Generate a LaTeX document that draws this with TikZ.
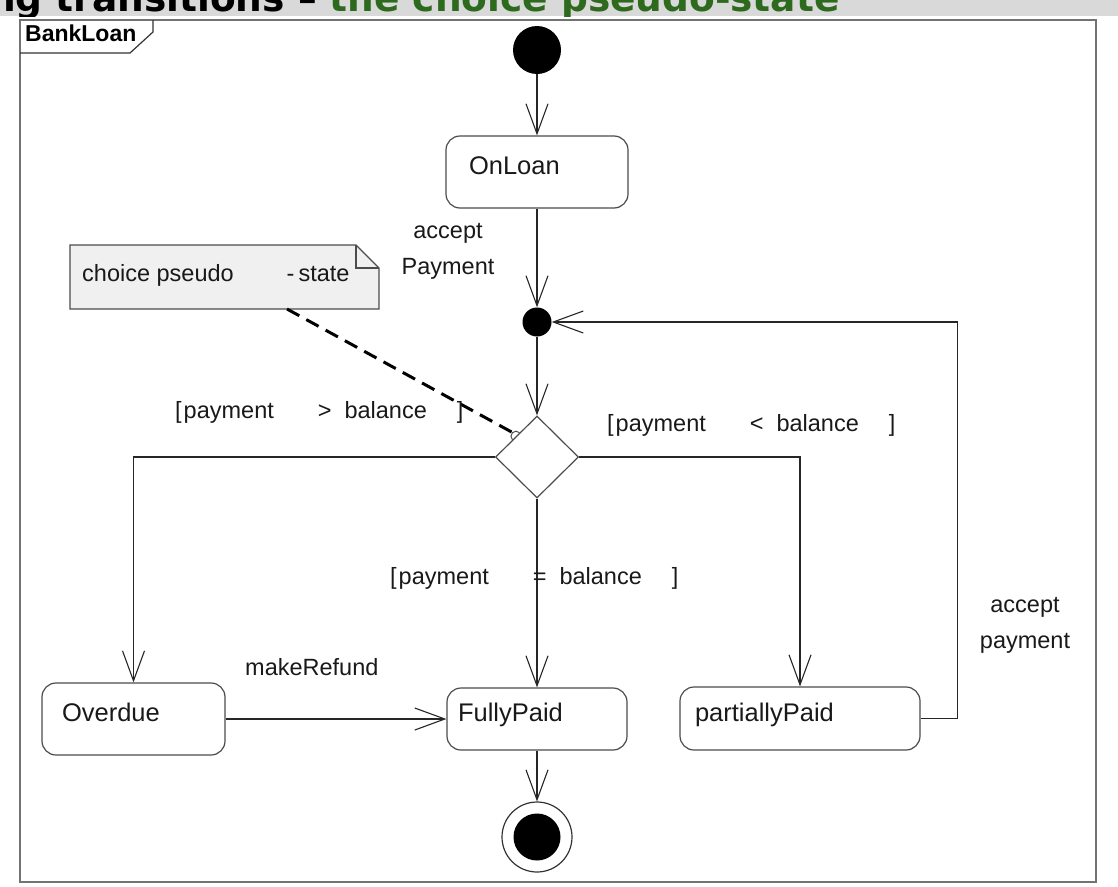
\documentclass[tikz,border=0pt]{standalone}
\usepackage{fontspec}
\setmainfont{Liberation Sans}
\newfontfamily\titlefont{DejaVu Sans}
\usepackage{tikz}
\usetikzlibrary{arrows.meta,shapes.geometric,calc}
\definecolor{titlegreen}{RGB}{46,106,30}
\definecolor{bandgray}{RGB}{217,217,217}
\definecolor{notegray}{RGB}{240,240,240}
\newcommand\statefont{\fontsize{25.5}{30}\selectfont}
\newcommand\lblfont{\fontsize{23.5}{36}\selectfont}
\newcommand\guardtext[1]{[\hspace{2pt}payment\hspace{44pt}#1\hspace{13pt}balance\hspace{30pt}]}

\begin{document}
\begin{tikzpicture}[x=1pt,y=-1pt,
    state/.style={draw=black!70, line width=1.2pt, rounded corners=14pt, align=left,
                  font=\statefont, text=black!90, text height=18pt, text depth=13pt, inner ysep=0pt},
    trans/.style={-{Straight Barb[length=30pt,width=22pt]}, line width=1.1pt, draw=black!85},
    lbl/.style={font=\lblfont, text=black!90, inner sep=0pt}]
               \useasboundingbox (0,0) rectangle (1118,886);
               \begin{scope}
                 \clip (0,0) rectangle (1118,16);
                 \fill[bandgray] (0,0) rectangle (1118,16);
                 \node[anchor=base west, inner sep=0pt, font=\titlefont\bfseries\fontsize{37.5}{40}\selectfont] (title) at (-11,12)
                      {ng transitions \textendash{} \textcolor{titlegreen}{the choice pseudo-state}};
               \end{scope}
               \draw[draw=black!55, line width=2pt] (20,20) rectangle (1096,882);
               \draw[line width=1.2pt, draw=black!80] (153,20) -- (153,32) -- (130,53) -- (20,53);
               \node[anchor=base west, inner sep=0pt, font=\bfseries\fontsize{23}{26}\selectfont] (frame) at (25,41) {BankLoan};
               \node[circle, fill=black, minimum size=48pt, inner sep=0pt] (init) at (537,50) {};
               \node[state, minimum width=182pt, minimum height=72pt, inner xsep=23pt, text width=136pt] (onloan) at (537,172) {OnLoan};
               \node[circle, fill=black, minimum size=29pt, inner sep=0pt] (junc) at (537,322) {};
               \node[diamond, draw=black!70, line width=1.2pt, minimum width=83pt, minimum height=82pt, inner sep=0pt] (choice) at (537,457) {};
               \node[state, minimum width=183pt, minimum height=72pt, inner xsep=20pt, text width=143pt] (overdue) at (133.5,719) {Overdue};
               \node[state, minimum width=180pt, minimum height=62pt, inner xsep=11pt, text width=158pt] (fullypaid) at (537,719) {FullyPaid};
               \node[state, minimum width=240pt, minimum height=63pt, inner xsep=15pt, text width=210pt] (partially) at (800,718.5) {partiallyPaid};
               \node[circle, draw=black!80, line width=1.2pt, minimum size=70pt, inner sep=0pt] (final) at (537,837) {};
               \node[circle, fill=black, minimum size=47pt, inner sep=0pt] (finaldot) at (final) {};
               % comment box
               \coordinate (notenw) at (70,245);
               \coordinate (notese) at (379,309);
               \coordinate (notefoot) at (287,309);
               \filldraw[fill=notegray, draw=black!70, line width=1.2pt] (notenw) -- (356,245) -- (379,268) -- (notese) -- (70,309) -- cycle;
               \draw[draw=black!70, line width=1.2pt] (356,245) -- (356,268) -- (379,268);
               \node[lbl, anchor=base west] (notetext) at (82,281) {choice pseudo\hspace{53pt}-\hspace{4pt}state};
               \coordinate (link) at ($(choice.west)!0.5!(choice.north)$);
               \draw[line width=3pt, dash pattern=on 14pt off 8pt] (notefoot) -- ($(link)+(-4,-4)$);
               \draw[line width=1pt, draw=black!70] (link) ++(45:5pt) arc[start angle=45, end angle=225, radius=5pt];
               % transitions
               \draw[trans] (init) -- (onloan);
               \draw[trans] (onloan) -- (junc);
               \draw[trans] (junc) -- (choice);
               \draw[trans] (choice.west) -| (overdue.north);
               \draw[trans] (choice.east) -| (partially.north);
               \draw[trans] (choice) -- (fullypaid);
               \draw[trans] (overdue) -- (fullypaid);
               \draw[trans] (fullypaid) -- (final);
               \draw[trans] (partially.east) -- ++(37,0) |- (junc.east);
               \node[lbl, anchor=base, align=center] (acceptlbl) at (448,274) {accept\\Payment};
               \node[lbl, anchor=base west] (gtlbl) at (175,418) {\guardtext{>}};
               \node[lbl, anchor=base west] (ltlbl) at (607,431) {\guardtext{<}};
               \node[lbl, anchor=base west] (eqlbl) at (390,584) {\guardtext{=}};
               \node[lbl, anchor=base west] (refundlbl) at (245,675) {makeRefund};
               \node[lbl, anchor=base, align=center] (paylbl) at (1025,648) {accept\\payment};
           \end{tikzpicture}
\end{document}
